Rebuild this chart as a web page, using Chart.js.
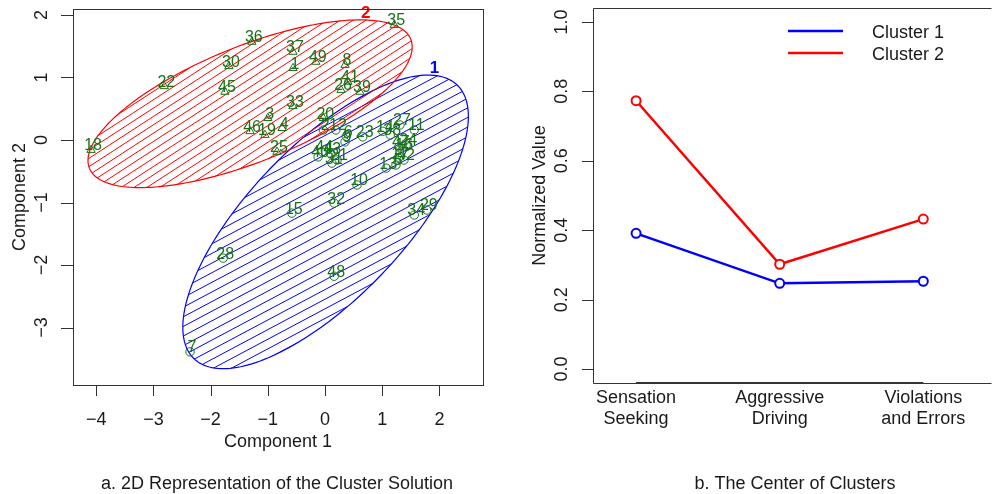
<!DOCTYPE html>
<html>
<head>
<meta charset="utf-8">
<script src="https://cdn.jsdelivr.net/npm/chart.js@4.4.1/dist/chart.umd.min.js"></script>
<style>
  body { margin: 0; background: #fff; width: 993px; height: 494px; overflow: hidden; position: relative; }
  #clusterPlot { position: absolute; left: 0; top: 0; }
  #centerPlot { position: absolute; left: 500px; top: 0; }
</style>
</head>
<body>
<canvas id="clusterPlot" width="500" height="494"></canvas>
<canvas id="centerPlot" width="493" height="494"></canvas>
<script>
// ---- panel a: 2D cluster solution ----
const cluster1Ids = [7, 28, 48, 15, 32, 10, 34, 29, 13, 11, 27, 14, 23, 12, 6, 2, 9, 40, 21, 31, 16, 17, 5, 24, 38, 42, 43, 44, 47];
const cluster1X = [-2.36, -1.78, 0.16, -0.58, 0.16, 0.56, 1.56, 1.78, 1.07, 1.56, 1.31, 1.01, 0.66, 0.19, 0.37, -0.03, 0.35, -0.12, 0.21, 0.12, 1.35, 1.28, 1.24, 1.42, 1.14, 1.38, 0.09, -0.05, 1.29];
const cluster1Y = [-3.39, -1.89, -2.18, -1.17, -1.01, -0.72, -1.20, -1.12, -0.45, 0.16, 0.24, 0.14, 0.05, 0.16, 0.06, 0.16, -0.03, -0.27, -0.32, -0.37, -0.16, -0.29, -0.40, -0.08, 0.08, -0.32, -0.21, -0.19, -0.11];

const cluster2Ids = [1, 3, 4, 8, 18, 19, 20, 22, 25, 26, 30, 33, 35, 36, 37, 39, 41, 45, 46, 49];
const cluster2X = [-0.56, -1.00, -0.75, 0.35, -4.09, -1.05, -0.03, -2.81, -0.84, 0.28, -1.68, -0.56, 1.21, -1.28, -0.56, 0.61, 0.40, -1.75, -1.31, -0.16];
const cluster2Y = [1.15, 0.35, 0.19, 1.20, -0.16, 0.08, 0.35, 0.86, -0.19, 0.80, 1.18, 0.54, 1.84, 1.57, 1.41, 0.77, 0.93, 0.77, 0.14, 1.25];

// ellipse = centre + cos(t) * axis1 + sin(t) * axis2 (data units)
const ellipseNames = ['1', '2'];
const ellipseCenterX = [0.01, -1.31];
const ellipseCenterY = [-1.31, 0.58];
const ellipseAxis1X = [2.30, 2.81];
const ellipseAxis1Y = [2.19, 1.03];
const ellipseAxis2X = [0.97, 0.37];
const ellipseAxis2Y = [-0.85, -0.86];

const xTicksA = [-4, -3, -2, -1, 0, 1, 2];
const yTicksA = [-3, -2, -1, 0, 1, 2];

// ---- panel b: centre of clusters ----
const factorNames = [['Sensation', 'Seeking'], ['Aggressive', 'Driving'], ['Violations', 'and Errors']];
const cluster1Center = [0.391, 0.247, 0.253];
const cluster2Center = [0.773, 0.302, 0.432];
const yTicksB = [0, 0.2, 0.4, 0.6, 0.8, 1.0];

const FONT = '"Liberation Sans", Arial, Helvetica, sans-serif';
const INK = '#1a1a1a';
const PT_GREEN = '#167316';
const ellipseColors = ['#0000ff', '#ff0000'];
const hatchAngles = [28, 33];
const hatchGaps = [8.5, 7];

function drawText(ctx, s, x, y, opts) {
  opts = opts || {};
  ctx.save();
  ctx.translate(x, y);
  if (opts.rot) ctx.rotate(opts.rot);
  ctx.font = (opts.weight || 'normal') + ' ' + (opts.size || 18) + 'px ' + FONT;
  ctx.fillStyle = opts.color || INK;
  ctx.textAlign = opts.align || 'center';
  ctx.textBaseline = opts.baseline || 'alphabetic';
  ctx.fillText(s, 0, 0);
  ctx.restore();
}

function ellipsePath(ctx, x, y, i) {
  ctx.beginPath();
  for (let k = 0; k <= 200; k++) {
    const t = k / 200 * Math.PI * 2;
    const px = x.getPixelForValue(ellipseCenterX[i] + Math.cos(t) * ellipseAxis1X[i] + Math.sin(t) * ellipseAxis2X[i]);
    const py = y.getPixelForValue(ellipseCenterY[i] + Math.cos(t) * ellipseAxis1Y[i] + Math.sin(t) * ellipseAxis2Y[i]);
    if (k === 0) ctx.moveTo(px, py); else ctx.lineTo(px, py);
  }
  ctx.closePath();
}

const clusterDecor = {
  id: 'clusterDecor',
  beforeDatasetsDraw(chart) {
    const { ctx, chartArea: a, scales: { x, y } } = chart;
    ctx.save();
    ctx.beginPath();
    ctx.rect(a.left, a.top, a.right - a.left, a.bottom - a.top);
    ctx.clip();
    ellipseNames.forEach((name, i) => {
      const cx = x.getPixelForValue(ellipseCenterX[i]);
      const cy = y.getPixelForValue(ellipseCenterY[i]);
      const ang = hatchAngles[i] * Math.PI / 180;
      const dx = Math.cos(ang), dy = -Math.sin(ang);
      const nx = Math.sin(ang), ny = Math.cos(ang);
      ctx.save();
      ellipsePath(ctx, x, y, i);
      ctx.clip();
      ctx.strokeStyle = ellipseColors[i];
      ctx.lineWidth = 1;
      ctx.beginPath();
      for (let k = -60; k <= 60; k++) {
        const ox = cx + k * hatchGaps[i] * nx, oy = cy + k * hatchGaps[i] * ny;
        ctx.moveTo(ox - 400 * dx, oy - 400 * dy);
        ctx.lineTo(ox + 400 * dx, oy + 400 * dy);
      }
      ctx.stroke();
      ctx.restore();
      ellipsePath(ctx, x, y, i);
      ctx.strokeStyle = ellipseColors[i];
      ctx.lineWidth = 1.2;
      ctx.stroke();
    });
    ctx.restore();
  },
  afterDatasetsDraw(chart) {
    const { ctx, scales: { x, y } } = chart;
    chart.data.datasets.forEach(ds => {
      ds.data.forEach(p => {
        drawText(ctx, String(p.id), x.getPixelForValue(p.x) + 2, y.getPixelForValue(p.y) - 4,
          { size: 16, color: PT_GREEN, baseline: 'middle' });
      });
    });
    // cluster names sit just above the top of each ellipse
    ellipseNames.forEach((name, i) => {
      let best = null;
      for (let k = 0; k < 360; k++) {
        const t = k / 360 * Math.PI * 2;
        const vx = ellipseCenterX[i] + Math.cos(t) * ellipseAxis1X[i] + Math.sin(t) * ellipseAxis2X[i];
        const vy = ellipseCenterY[i] + Math.cos(t) * ellipseAxis1Y[i] + Math.sin(t) * ellipseAxis2Y[i];
        if (!best || vy > best[1]) best = [vx, vy];
      }
      drawText(ctx, name, x.getPixelForValue(best[0]) + 6, y.getPixelForValue(best[1]) - 2,
        { size: 17, weight: 'bold', color: ellipseColors[i] });
    });
  },
  afterDraw(chart) {
    const { ctx, chartArea: a, scales: { x, y } } = chart;
    ctx.save();
    ctx.strokeStyle = '#333';
    ctx.lineWidth = 1;
    ctx.strokeRect(a.left + 0.5, a.top + 0.5, a.right - a.left, a.bottom - a.top);
    ctx.beginPath();
    xTicksA.forEach(v => {
      const px = Math.round(x.getPixelForValue(v)) + 0.5;
      ctx.moveTo(px, a.bottom); ctx.lineTo(px, a.bottom + 11);
    });
    yTicksA.forEach(v => {
      const py = Math.round(y.getPixelForValue(v)) + 0.5;
      ctx.moveTo(a.left - 12, py); ctx.lineTo(a.left, py);
    });
    ctx.stroke();
    ctx.restore();
    xTicksA.forEach(v => drawText(ctx, String(v).replace('-', '\u2212'), x.getPixelForValue(v), 425));
    yTicksA.forEach(v => drawText(ctx, String(v).replace('-', '\u2212'), 47, y.getPixelForValue(v), { rot: -Math.PI / 2 }));
    drawText(ctx, 'Component 1', (a.left + a.right) / 2, 447);
    drawText(ctx, 'Component 2', 25, (a.top + a.bottom) / 2, { rot: -Math.PI / 2 });
    drawText(ctx, 'a. 2D Representation of the Cluster Solution', 277, 489);
  }
};

new Chart(document.getElementById('clusterPlot'), {
  type: 'scatter',
  data: {
    datasets: [
      {
        label: 'Cluster 1',
        data: cluster1Ids.map((id, i) => ({ x: cluster1X[i], y: cluster1Y[i], id: id })),
        pointStyle: 'circle',
        pointRadius: 4.2,
        borderColor: PT_GREEN,
        backgroundColor: 'rgba(0,0,0,0)',
        borderWidth: 1
      },
      {
        label: 'Cluster 2',
        data: cluster2Ids.map((id, i) => ({ x: cluster2X[i], y: cluster2Y[i], id: id })),
        pointStyle: 'triangle',
        pointRadius: 4.8,
        borderColor: PT_GREEN,
        backgroundColor: 'rgba(0,0,0,0)',
        borderWidth: 1
      }
    ]
  },
  options: {
    responsive: false,
    animation: false,
    layout: { padding: { left: 73, top: 9, right: 17, bottom: 109 } },
    plugins: { legend: { display: false }, tooltip: { enabled: false } },
    scales: {
      x: { type: 'linear', min: -4.406, max: 2.762, display: false },
      y: { type: 'linear', min: -3.92, max: 2.096, display: false }
    }
  },
  plugins: [clusterDecor]
});

const centerDecor = {
  id: 'centerDecor',
  afterDraw(chart) {
    const { ctx, chartArea: a, scales: { x, y } } = chart;
    ctx.save();
    ctx.strokeStyle = '#333';
    ctx.lineWidth = 1;
    ctx.beginPath();
    ctx.moveTo(a.right + 5, a.top + 0.5);
    ctx.lineTo(a.left + 0.5, a.top + 0.5);
    ctx.lineTo(a.left + 0.5, a.bottom + 0.5);
    ctx.lineTo(a.right + 5, a.bottom + 0.5);
    yTicksB.forEach(v => {
      const py = Math.round(y.getPixelForValue(v)) + 0.5;
      ctx.moveTo(a.left - 11, py); ctx.lineTo(a.left, py);
    });
    ctx.stroke();
    ctx.lineWidth = 2;
    ctx.beginPath();
    ctx.moveTo(x.getPixelForValue(1), a.bottom);
    ctx.lineTo(x.getPixelForValue(factorNames.length), a.bottom);
    ctx.stroke();
    ctx.restore();
    yTicksB.forEach(v => drawText(ctx, v.toFixed(1), 67, y.getPixelForValue(v), { rot: -Math.PI / 2 }));
    factorNames.forEach((lines, i) => {
      drawText(ctx, lines[0], x.getPixelForValue(i + 1), 403);
      drawText(ctx, lines[1], x.getPixelForValue(i + 1), 424);
    });
    drawText(ctx, 'Normalized Value', 45, (a.top + a.bottom) / 2, { rot: -Math.PI / 2 });
    drawText(ctx, 'b. The Center of Clusters', 295, 489);
    // legend
    chart.data.datasets.forEach((ds, i) => {
      const ly = 31 + i * 22;
      ctx.save();
      ctx.strokeStyle = ds.borderColor;
      ctx.lineWidth = 2.5;
      ctx.beginPath();
      ctx.moveTo(288, ly); ctx.lineTo(343, ly);
      ctx.stroke();
      ctx.restore();
      drawText(ctx, ds.label, 372, ly + 7, { align: 'left' });
    });
  }
};

new Chart(document.getElementById('centerPlot'), {
  type: 'line',
  data: {
    datasets: [
      {
        label: 'Cluster 1',
        data: cluster1Center.map((v, i) => ({ x: i + 1, y: v })),
        borderColor: '#0000ff',
        backgroundColor: '#ffffff',
        borderWidth: 2.5,
        pointRadius: 4.5,
        pointBorderWidth: 2,
        tension: 0
      },
      {
        label: 'Cluster 2',
        data: cluster2Center.map((v, i) => ({ x: i + 1, y: v })),
        borderColor: '#ff0000',
        backgroundColor: '#ffffff',
        borderWidth: 2.5,
        pointRadius: 4.5,
        pointBorderWidth: 2,
        tension: 0
      }
    ]
  },
  options: {
    responsive: false,
    animation: false,
    layout: { padding: { left: 93, top: 8, right: 0, bottom: 111 } },
    plugins: { legend: { display: false }, tooltip: { enabled: false } },
    scales: {
      x: { type: 'linear', min: 0.7, max: 3.44, display: false },
      y: { type: 'linear', min: -0.04, max: 1.04, display: false }
    }
  },
  plugins: [centerDecor]
});
</script>
</body>
</html>
